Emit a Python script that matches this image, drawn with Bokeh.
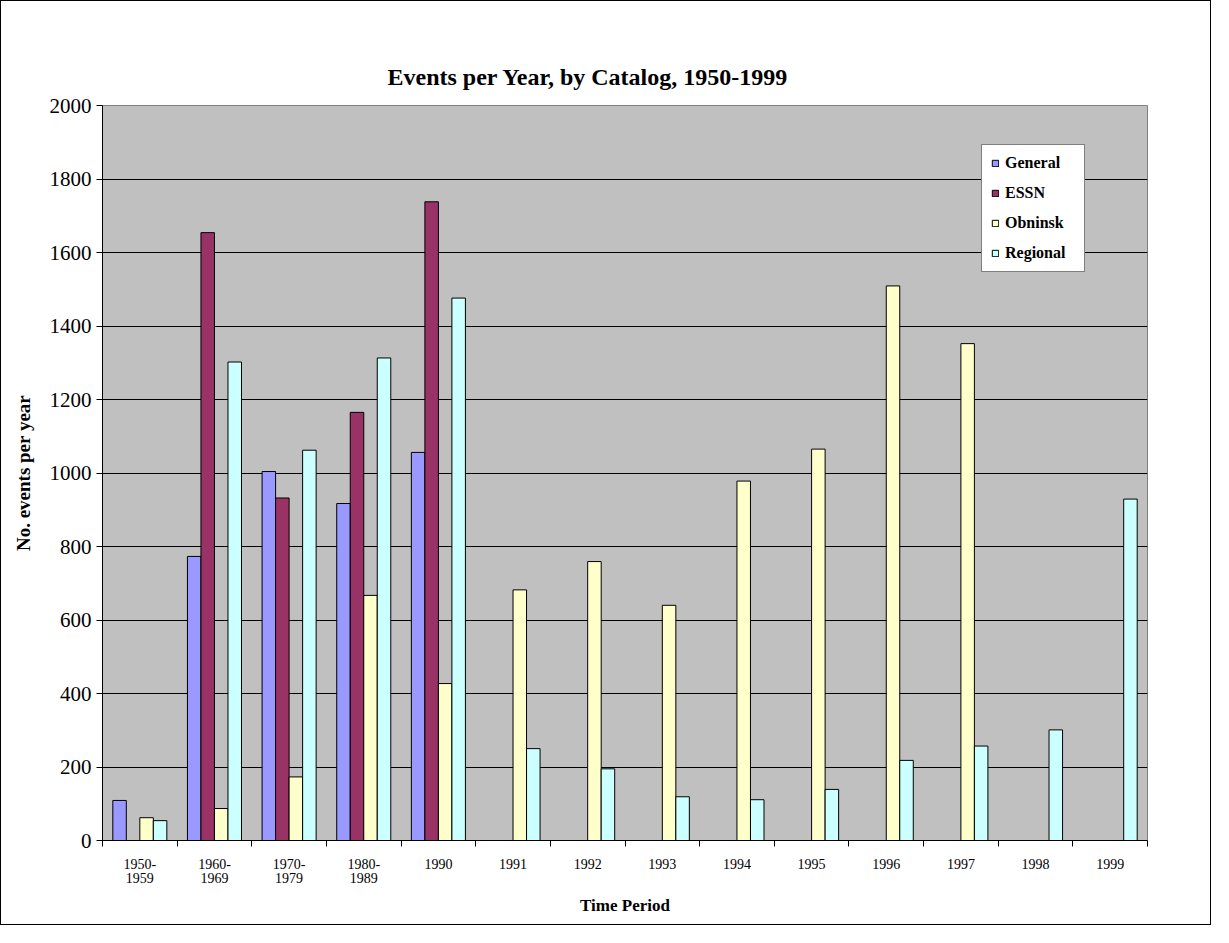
from bokeh.plotting import figure
from bokeh.models import Range1d, FixedTicker
from bokeh.embed import file_html
from bokeh.resources import INLINE
import numpy as np

periods = ["1950-\n1959", "1960-\n1969", "1970-\n1979", "1980-\n1989", "1990",
           "1991", "1992", "1993", "1994", "1995", "1996", "1997", "1998", "1999"]
nan = float("nan")
general = [109, 773, 1004, 917, 1056, nan, nan, nan, nan, nan, nan, nan, nan, nan]
essn = [nan, 1654, 932, 1165, 1738, nan, nan, nan, nan, nan, nan, nan, nan, nan]
obninsk = [62, 87, 173, 667, 427, 682, 759, 640, 978, 1065, 1509, 1352, nan, nan]
regional = [54, 1302, 1062, 1313, 1476, 250, 195, 119, 111, 139, 218, 257, 301, 929]

series = [("General", general, "#9999FF"),
          ("ESSN", essn, "#993366"),
          ("Obninsk", obninsk, "#FFFFCC"),
          ("Regional", regional, "#CCFFFF")]

FONT = "Liberation Serif"

p = figure(width=1211, height=925, output_backend="svg", toolbar_location=None,
           x_range=Range1d(0, len(periods)), y_range=Range1d(0, 2000),
           min_border_left=101, min_border_right=65, min_border_top=104, min_border_bottom=86,
           title="Events per Year, by Catalog, 1950-1999")
p.styles = {"border": "1px solid black"}

p.background_fill_color = "#C0C0C0"
p.border_fill_color = "white"
p.outline_line_color = "#808080"
p.outline_line_width = 1

p.title.text_font = FONT
p.title.text_font_size = "24px"
p.title.text_font_style = "bold"
p.title.text_color = "black"
p.title.align = "left"
p.title.offset = 285
p.title.standoff = 32

centers = np.arange(len(periods)) + 0.5
w = 0.181
for k, (name, vals, col) in enumerate(series):
    p.vbar(x=centers + (k - 1.5) * w, top=vals, bottom=0, width=w,
           fill_color=col, line_color="black", line_width=1, legend_label=name)

p.xgrid.grid_line_color = None
p.ygrid.grid_line_color = "black"
p.ygrid.grid_line_width = 1

p.yaxis.ticker = FixedTicker(ticks=list(range(0, 2001, 200)))
p.yaxis.major_tick_out = 6
p.yaxis.major_tick_in = 0
p.yaxis.minor_tick_line_color = None
p.yaxis.major_label_text_font = FONT
p.yaxis.major_label_text_font_size = "21px"
p.yaxis.major_label_text_color = "black"
p.yaxis.major_label_standoff = 5
p.yaxis.axis_label = "No. events per year"
p.yaxis.axis_label_text_font = FONT
p.yaxis.axis_label_text_font_size = "19px"
p.yaxis.axis_label_text_font_style = "bold"
p.yaxis.axis_label_text_color = "black"
p.yaxis.axis_label_standoff = 13
p.yaxis.axis_line_color = "black"

p.xaxis.ticker = FixedTicker(ticks=list(centers), minor_ticks=list(range(0, len(periods) + 1)))
p.xaxis.major_label_overrides = {float(c): lab for c, lab in zip(centers, periods)}
p.xaxis.major_tick_line_color = None
p.xaxis.minor_tick_out = 6
p.xaxis.minor_tick_in = 0
p.xaxis.minor_tick_line_color = "black"
p.xaxis.major_label_text_font = FONT
p.xaxis.major_label_text_font_size = "14px"
p.xaxis.major_label_text_color = "black"
p.xaxis.major_label_text_line_height = 0.95
p.xaxis.major_label_standoff = 10
p.xaxis.axis_label = "Time Period"
p.xaxis.axis_label_text_font = FONT
p.xaxis.axis_label_text_font_size = "17px"
p.xaxis.axis_label_text_font_style = "bold"
p.xaxis.axis_label_text_color = "black"
p.xaxis.axis_label_standoff = 7
p.xaxis.axis_line_color = "black"

lg = p.legend[0]
lg.location = (879, 568)
lg.background_fill_color = "white"
lg.background_fill_alpha = 1
lg.border_line_color = "black"
lg.border_line_width = 1
lg.label_text_font = FONT
lg.label_text_font_size = "16px"
lg.label_text_font_style = "bold"
lg.label_text_color = "black"
lg.glyph_width = 8
lg.glyph_height = 8
lg.label_height = 18
lg.label_width = 70
lg.spacing = 12
lg.padding = 9
lg.margin = 0
lg.label_standoff = 6

open("out.html", "w").write(file_html(p, INLINE))
